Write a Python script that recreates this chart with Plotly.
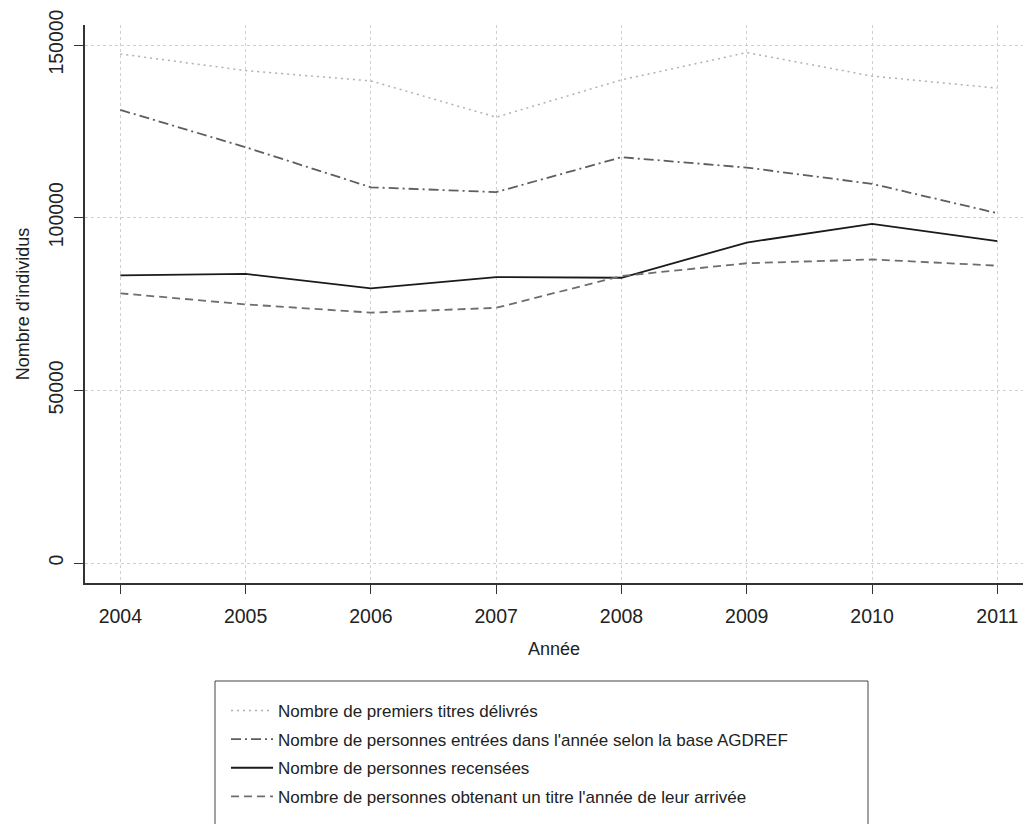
import plotly.graph_objects as go

years = [2004, 2005, 2006, 2007, 2008, 2009, 2010, 2011]
premiers_titres = [147400, 142600, 139600, 129100, 139900, 147800, 141000, 137500]
agdref = [131200, 120400, 108800, 107400, 117500, 114500, 109800, 101300]
recensees = [83300, 83700, 79500, 82800, 82600, 92800, 98200, 93200]
titre_arrivee = [78100, 74900, 72500, 73900, 83100, 86800, 87900, 86100]

series_names = [
    "Nombre de premiers titres délivrés",
    "Nombre de personnes entrées dans l'année selon la base AGDREF",
    "Nombre de personnes recensées",
    "Nombre de personnes obtenant un titre l'année de leur arrivée",
]
series_values = [premiers_titres, agdref, recensees, titre_arrivee]
series_colors = ["#b0b0b0", "#5e5e5e", "#1a1a1a", "#6e6e6e"]
series_dash = ["2px,4px", "10px,4px,2px,4px", "solid", "8px,5px"]
series_width = [1.5, 1.8, 1.8, 1.8]

yticks = [0, 50000, 100000, 150000]

W, H = 1025, 824
L, R, T, B = 85, 2, 25, 241
pw, ph = W - L - R, H - T - B

def px2paper_x(px):
    return (px - L) / pw

def px2paper_y(py):
    return (H - B - py) / ph

fig = go.Figure()
for i, (name, vals) in enumerate(zip(series_names, series_values)):
    fig.add_trace(go.Scatter(
        x=years, y=vals, mode="lines", name=name,
        legendgroup=str(i),
        line=dict(color=series_colors[i], dash=series_dash[i], width=series_width[i]),
    ))

font_family = "Liberation Sans, Arial, Helvetica, sans-serif"

fig.update_layout(
    width=W, height=H,
    margin=dict(l=L, r=R, t=T, b=B, pad=0),
    paper_bgcolor="white", plot_bgcolor="white",
    font=dict(family=font_family, color="#222222", size=18),
    showlegend=True,
    legend=dict(
        x=px2paper_x(226), y=px2paper_y(693), xanchor="left", yanchor="top",
        font=dict(size=17, color="#222222"),
        bgcolor="rgba(0,0,0,0)", borderwidth=0,
        tracegroupgap=3.5, itemwidth=42,
    ),
    xaxis=dict(
        range=[2003.718, 2011.205],
        tickvals=years, ticktext=[str(y) for y in years],
        ticks="outside", ticklen=9, tickwidth=1.2, tickcolor="#333333",
        showline=True, linecolor="#333333", linewidth=1.5,
        showgrid=True, gridcolor="#cfcfcf", griddash="dot", gridwidth=1,
        zeroline=False,
        ticklabelstandoff=6,
        tickfont=dict(size=19.5, color="#222222"),
        title=dict(text="Année", font=dict(size=18, color="#222222"), standoff=16),
    ),
    yaxis=dict(
        range=[-5791, 155791],
        tickvals=yticks, ticktext=[str(v) for v in yticks],
        tickangle=-90,
        ticks="outside", ticklen=9, tickwidth=1.2, tickcolor="#333333",
        showline=True, linecolor="#333333", linewidth=1.5,
        showgrid=True, gridcolor="#cfcfcf", griddash="dot", gridwidth=1,
        zeroline=False,
        ticklabelstandoff=3,
        tickfont=dict(size=19.5, color="#222222"),
        title=dict(text="Nombre d'individus", font=dict(size=18, color="#222222"), standoff=11),
    ),
    shapes=[dict(
        type="rect", xref="paper", yref="paper",
        x0=px2paper_x(215), x1=px2paper_x(868),
        y0=px2paper_y(681), y1=px2paper_y(832),
        line=dict(color="#444444", width=1), fillcolor="rgba(0,0,0,0)",
        layer="below",
    )],
)

fig.write_html(
    "out.html",
    config={"displayModeBar": False},
    post_script="document.body.style.margin='0px';",
)
